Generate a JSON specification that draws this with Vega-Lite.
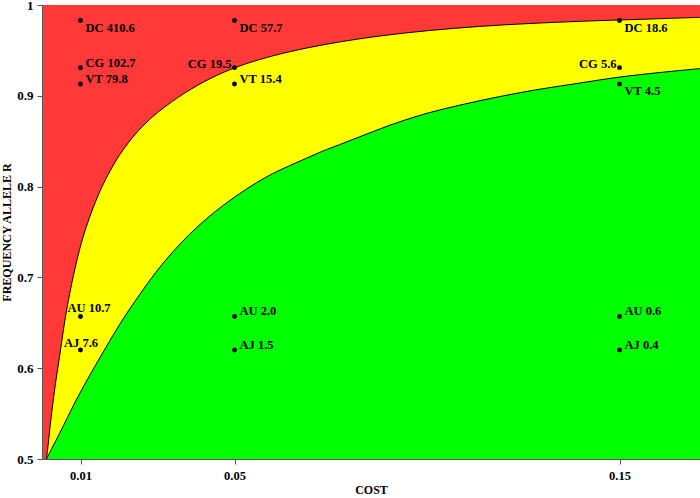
{
  "$schema": "https://vega.github.io/schema/vega-lite/v6.json",
  "width": 658,
  "height": 454,
  "autosize": "none",
  "padding": {"left": 42, "top": 5, "right": 0, "bottom": 39},
  "background": "white",
  "config": {"view": {"stroke": null, "fill": "#FF3838"}, "font": "Liberation Serif"},
  "datasets": {
    "upper": [
      {"c": 0.00117, "p": 0.5},
      {"c": 0.00156, "p": 0.5143},
      {"c": 0.00239, "p": 0.5466},
      {"c": 0.00351, "p": 0.5835},
      {"c": 0.00481, "p": 0.6202},
      {"c": 0.0061, "p": 0.6569},
      {"c": 0.00774, "p": 0.6937},
      {"c": 0.00974, "p": 0.7304},
      {"c": 0.01143, "p": 0.7547},
      {"c": 0.01338, "p": 0.7778},
      {"c": 0.01571, "p": 0.801},
      {"c": 0.01779, "p": 0.8181},
      {"c": 0.02039, "p": 0.8363},
      {"c": 0.02481, "p": 0.8605},
      {"c": 0.03, "p": 0.8815},
      {"c": 0.03727, "p": 0.9035},
      {"c": 0.04351, "p": 0.9186},
      {"c": 0.05, "p": 0.9308},
      {"c": 0.05649, "p": 0.9399},
      {"c": 0.06429, "p": 0.9485},
      {"c": 0.07468, "p": 0.9574},
      {"c": 0.08766, "p": 0.9658},
      {"c": 0.10065, "p": 0.9719},
      {"c": 0.11364, "p": 0.9764},
      {"c": 0.12662, "p": 0.9796},
      {"c": 0.13961, "p": 0.982},
      {"c": 0.15, "p": 0.9835},
      {"c": 0.16039, "p": 0.9849},
      {"c": 0.1709, "p": 0.9864}
    ],
    "lower": [
      {"c": 0.00117, "p": 0.5},
      {"c": 0.00273, "p": 0.5132},
      {"c": 0.00455, "p": 0.5281},
      {"c": 0.00662, "p": 0.5458},
      {"c": 0.00888, "p": 0.565},
      {"c": 0.0113, "p": 0.5838},
      {"c": 0.01364, "p": 0.6014},
      {"c": 0.01623, "p": 0.6202},
      {"c": 0.01883, "p": 0.6389},
      {"c": 0.02195, "p": 0.6599},
      {"c": 0.02532, "p": 0.6808},
      {"c": 0.02948, "p": 0.7052},
      {"c": 0.0339, "p": 0.7277},
      {"c": 0.03831, "p": 0.7474},
      {"c": 0.04273, "p": 0.7646},
      {"c": 0.04688, "p": 0.7787},
      {"c": 0.0513, "p": 0.7922},
      {"c": 0.05571, "p": 0.8043},
      {"c": 0.05987, "p": 0.8142},
      {"c": 0.06429, "p": 0.823},
      {"c": 0.0687, "p": 0.8313},
      {"c": 0.07286, "p": 0.839},
      {"c": 0.07727, "p": 0.8462},
      {"c": 0.08429, "p": 0.8578},
      {"c": 0.09156, "p": 0.8694},
      {"c": 0.10065, "p": 0.8815},
      {"c": 0.10974, "p": 0.8909},
      {"c": 0.11883, "p": 0.8991},
      {"c": 0.12792, "p": 0.9063},
      {"c": 0.13701, "p": 0.9123},
      {"c": 0.15, "p": 0.9206},
      {"c": 0.16039, "p": 0.9256},
      {"c": 0.1709, "p": 0.93}
    ],
    "points": [
      {"c": 0.01, "p": 0.983, "label": "DC 410.6"},
      {"c": 0.01, "p": 0.931, "label": "CG 102.7"},
      {"c": 0.01, "p": 0.913, "label": "VT 79.8"},
      {"c": 0.01, "p": 0.657, "label": "AU 10.7"},
      {"c": 0.01, "p": 0.62, "label": "AJ 7.6"},
      {"c": 0.05, "p": 0.983, "label": "DC 57.7"},
      {"c": 0.05, "p": 0.931, "label": "CG 19.5"},
      {"c": 0.05, "p": 0.913, "label": "VT 15.4"},
      {"c": 0.05, "p": 0.657, "label": "AU 2.0"},
      {"c": 0.05, "p": 0.62, "label": "AJ 1.5"},
      {"c": 0.15, "p": 0.983, "label": "DC 18.6"},
      {"c": 0.15, "p": 0.931, "label": "CG 5.6"},
      {"c": 0.15, "p": 0.913, "label": "VT 4.5"},
      {"c": 0.15, "p": 0.657, "label": "AU 0.6"},
      {"c": 0.15, "p": 0.62, "label": "AJ 0.4"}
    ]
  },
  "layer": [
    {
      "data": {"name": "upper"},
      "mark": {"type": "area", "color": "#FFFF00", "interpolate": "catmull-rom"},
      "encoding": {
        "x": {
          "field": "c", "type": "quantitative",
          "scale": {"domain": [0, 0.1709], "nice": false, "zero": false},
          "axis": {
            "values": [0.01, 0.05, 0.15], "format": ".2f", "title": "COST", "grid": false,
            "domainColor": "#555555", "tickColor": "#555555", "tickSize": 5,
            "labelFont": "Liberation Serif", "labelFontWeight": "bold", "labelFontSize": 12.5,
            "labelColor": "black", "labelPadding": 5, "labelFlush": false,
            "titleFont": "Liberation Serif", "titleFontWeight": "bold", "titleFontSize": 12,
            "titleColor": "black", "titlePadding": 3
          }
        },
        "y": {
          "field": "p", "type": "quantitative",
          "scale": {"domain": [0.5, 1], "nice": false, "zero": false},
          "axis": {
            "values": [0.5, 0.6, 0.7, 0.8, 0.9, 1], "format": "~g", "title": "FREQUENCY ALLELE R", "grid": false,
            "domainColor": "#555555", "tickColor": "#555555", "tickSize": 5,
            "labelFont": "Liberation Serif", "labelFontWeight": "bold", "labelFontSize": 13,
            "labelColor": "black", "labelPadding": 4, "labelFlush": false,
            "titleFont": "Liberation Serif", "titleFontWeight": "bold", "titleFontSize": 12,
            "titleColor": "black", "titlePadding": 3
          }
        },
        "y2": {"datum": 0.5}
      }
    },
    {
      "data": {"name": "lower"},
      "mark": {"type": "area", "color": "#00FF00", "interpolate": "catmull-rom"},
      "encoding": {
        "x": {"field": "c", "type": "quantitative"},
        "y": {"field": "p", "type": "quantitative"},
        "y2": {"datum": 0.5}
      }
    },
    {
      "data": {"name": "upper"},
      "mark": {"type": "line", "color": "black", "strokeWidth": 1, "interpolate": "catmull-rom"},
      "encoding": {
        "x": {"field": "c", "type": "quantitative"},
        "y": {"field": "p", "type": "quantitative"}
      }
    },
    {
      "data": {"name": "lower"},
      "mark": {"type": "line", "color": "black", "strokeWidth": 1, "interpolate": "catmull-rom"},
      "encoding": {
        "x": {"field": "c", "type": "quantitative"},
        "y": {"field": "p", "type": "quantitative"}
      }
    },
    {
      "data": {"name": "points"},
      "mark": {"type": "circle", "color": "black", "size": 24, "opacity": 1},
      "encoding": {
        "x": {"field": "c", "type": "quantitative"},
        "y": {"field": "p", "type": "quantitative"}
      }
    },
    {
      "data": {"name": "points"},
      "transform": [{"filter": {"field": "label", "oneOf": ["DC 410.6", "DC 57.7", "DC 18.6", "VT 4.5"]}}],
      "mark": {"type": "text", "align": "left", "baseline": "alphabetic", "dx": 5, "dy": 11.5, "font": "Liberation Serif", "fontWeight": "bold", "fontSize": 12.5, "color": "black"},
      "encoding": {
        "x": {"field": "c", "type": "quantitative"},
        "y": {"field": "p", "type": "quantitative"},
        "text": {"field": "label"}
      }
    },
    {
      "data": {"name": "points"},
      "transform": [{"filter": {"field": "label", "oneOf": ["CG 102.7", "VT 79.8", "VT 15.4", "AU 2.0", "AJ 1.5", "AU 0.6", "AJ 0.4"]}}],
      "mark": {"type": "text", "align": "left", "baseline": "alphabetic", "dx": 5, "dy": -1, "font": "Liberation Serif", "fontWeight": "bold", "fontSize": 12.5, "color": "black"},
      "encoding": {
        "x": {"field": "c", "type": "quantitative"},
        "y": {"field": "p", "type": "quantitative"},
        "text": {"field": "label"}
      }
    },
    {
      "data": {"name": "points"},
      "transform": [{"filter": {"field": "label", "oneOf": ["CG 19.5", "CG 5.6"]}}],
      "mark": {"type": "text", "align": "right", "baseline": "alphabetic", "dx": -3, "dy": 0, "font": "Liberation Serif", "fontWeight": "bold", "fontSize": 12.5, "color": "black"},
      "encoding": {
        "x": {"field": "c", "type": "quantitative"},
        "y": {"field": "p", "type": "quantitative"},
        "text": {"field": "label"}
      }
    },
    {
      "data": {"name": "points"},
      "transform": [{"filter": {"field": "label", "equal": "AU 10.7"}}],
      "mark": {"type": "text", "align": "center", "baseline": "alphabetic", "dx": 8.5, "dy": -4.5, "font": "Liberation Serif", "fontWeight": "bold", "fontSize": 12.5, "color": "black"},
      "encoding": {
        "x": {"field": "c", "type": "quantitative"},
        "y": {"field": "p", "type": "quantitative"},
        "text": {"field": "label"}
      }
    },
    {
      "data": {"name": "points"},
      "transform": [{"filter": {"field": "label", "equal": "AJ 7.6"}}],
      "mark": {"type": "text", "align": "center", "baseline": "alphabetic", "dx": 0.5, "dy": -3, "font": "Liberation Serif", "fontWeight": "bold", "fontSize": 12.5, "color": "black"},
      "encoding": {
        "x": {"field": "c", "type": "quantitative"},
        "y": {"field": "p", "type": "quantitative"},
        "text": {"field": "label"}
      }
    }
  ]
}
